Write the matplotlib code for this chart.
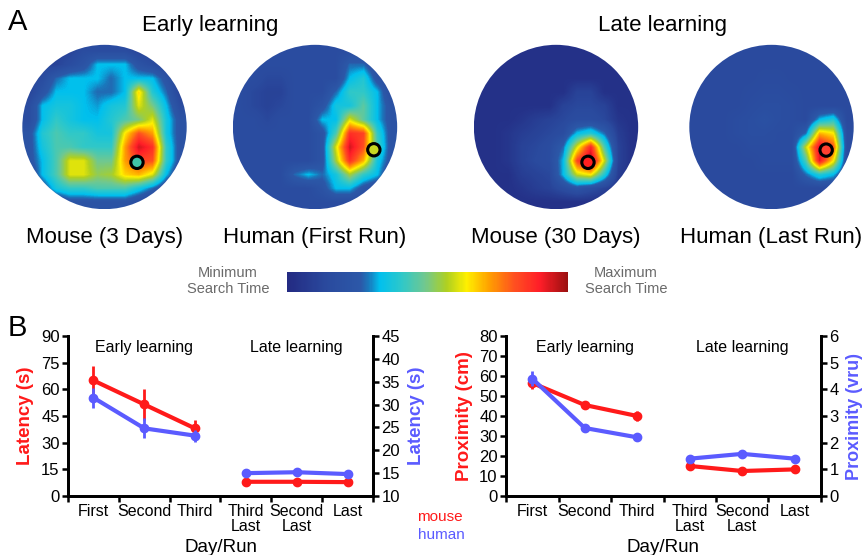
import numpy as np
import matplotlib
matplotlib.use("Agg")
import matplotlib.pyplot as plt
from matplotlib.colors import LinearSegmentedColormap
from matplotlib.patches import Circle
from matplotlib.colorbar import ColorbarBase

plt.rcParams['font.family'] = ['Liberation Sans', 'DejaVu Sans']

W, H = 864, 555
RED = '#ff1a1a'
BLUE = '#5b5bff'

# ---- panel A: search-time heat maps (0..9 scale) ----
mouse_early = [
    [1, 1, 1, 1, 1.5, 1.5, 1.5, 1.5, 1, 1, 1, 1],
    [1, 1, 1, 1.5, 2, 3, 3, 3, 2, 1.5, 1, 1],
    [1, 1.5, 2.5, 3, 3, 3, 2.5, 3, 3, 3, 2, 1],
    [1, 2, 3, 3, 3, 2.5, 2.5, 3, 6, 3.5, 2.5, 1],
    [1.5, 3, 3.3, 3.3, 3, 2.8, 3.3, 3.5, 5.5, 4.5, 3, 1.5],
    [1.5, 3, 3.7, 3.3, 3, 3, 3.5, 4, 4.5, 5.5, 3.3, 2],
    [2, 3.5, 4, 3.7, 3.7, 3.3, 3.3, 5.8, 7.3, 6.5, 3.3, 2],
    [2, 3.3, 4, 4, 3.7, 3.7, 3.7, 6.5, 8.5, 7.8, 3.7, 2],
    [2, 3, 4, 5.5, 5.5, 4.4, 4.4, 6.5, 7.5, 7.3, 3.7, 2],
    [1.5, 3, 4, 5.5, 5.5, 4.8, 5, 6, 6.3, 5.5, 3, 1.5],
    [1, 2, 3.3, 3.7, 3.7, 4, 4, 4, 3.3, 2.5, 1.5, 1],
    [1, 1, 1.5, 2, 2, 2, 2, 2, 1.5, 1, 1, 1],
]
human_early = [
    [1.5, 1.5, 1.5, 1.5, 1.5, 1.5, 1.5, 1.5, 1.5, 1.5, 1.5, 1.5],
    [1.5, 1.5, 1.5, 1.5, 1.5, 1.5, 1.5, 1.5, 2.5, 2.5, 1.5, 1.5],
    [1.5, 1.5, 1.2, 1.2, 1.5, 1.5, 1.5, 1.5, 3, 3.5, 2, 1.5],
    [1.5, 1.2, 1, 1, 1.5, 1.5, 1.5, 2.5, 3.7, 3.7, 3, 1.5],
    [1.5, 1.2, 1, 1.2, 1.5, 1.5, 2, 3.3, 3.3, 4.2, 3, 2],
    [1.5, 1.5, 1.2, 1.5, 1.5, 1.5, 3, 3, 5.5, 4.2, 3, 2],
    [1.5, 1.5, 1.5, 1.5, 1.5, 1.5, 2, 4, 7.8, 7.5, 3.7, 2],
    [1.5, 1.5, 1.5, 1.5, 1.5, 1.5, 2, 5.5, 8.5, 7.3, 4, 2],
    [1.5, 1.5, 1.5, 1.5, 1.5, 1.5, 2, 5, 7.8, 6.3, 3.3, 2],
    [1.5, 1.5, 1.5, 1.5, 2.5, 3, 2.5, 3.3, 5, 3.7, 3, 1.5],
    [1.5, 1.5, 1.5, 1.5, 1.5, 1.5, 2, 3, 3, 2, 1.5, 1.5],
    [1.5, 1.5, 1.5, 1.5, 1.5, 1.5, 1.5, 1.5, 1.5, 1.5, 1.5, 1.5],
]
mouse_late = [
    [0.3, 0.3, 0.3, 0.3, 0.3, 0.3, 0.3, 0.3, 0.3, 0.3, 0.3, 0.3],
    [0.3, 0.3, 0.3, 0.3, 0.3, 0.3, 0.3, 0.3, 0.3, 0.3, 0.3, 0.3],
    [0.3, 0.3, 0.3, 0.3, 0.3, 0.3, 0.3, 0.3, 0.3, 0.3, 0.3, 0.3],
    [0.3, 0.3, 0.3, 0.3, 0.3, 0.3, 0.3, 1, 1, 0.3, 0.3, 0.3],
    [0.3, 0.3, 0.3, 0.3, 0.3, 0.3, 1, 1.2, 1.2, 1, 0.3, 0.3],
    [0.3, 0.3, 0.3, 0.5, 0.8, 1, 1.2, 1.5, 1.5, 1.2, 0.5, 0.3],
    [0.3, 0.3, 0.5, 0.8, 1, 1.2, 1.5, 3, 3.5, 2.5, 0.8, 0.3],
    [0.3, 0.3, 0.5, 1, 1.2, 1.5, 2.5, 5.5, 8, 4, 1, 0.3],
    [0.3, 0.3, 0.5, 1, 1.3, 1.5, 3, 7.5, 9, 5.3, 1, 0.3],
    [0.3, 0.3, 0.3, 0.8, 1, 1.2, 3, 5.3, 5.8, 3.5, 0.8, 0.3],
    [0.3, 0.3, 0.3, 0.5, 0.8, 1, 1.5, 2, 1.5, 1, 0.5, 0.3],
    [0.3, 0.3, 0.3, 0.3, 0.3, 0.3, 0.3, 0.3, 0.3, 0.3, 0.3, 0.3],
]
human_late = [
    [1.3, 1.3, 1.3, 1.3, 1.3, 1.3, 1.3, 1.3, 1.3, 1.3, 1.3, 1.3],
    [1.3, 1.3, 1.3, 1.3, 1.3, 1.3, 1.3, 1.3, 1.3, 1.3, 1.3, 1.3],
    [1.3, 1.3, 1.3, 1.3, 1.3, 1.4, 1.4, 1.3, 1.3, 1.3, 1.3, 1.3],
    [1.3, 1.3, 1.3, 1.3, 1.4, 1.5, 1.5, 1.4, 1.3, 1.3, 1.3, 1.3],
    [1.3, 1.3, 1.3, 1.3, 1.5, 1.6, 1.6, 1.5, 1.3, 1.3, 1.3, 1.3],
    [1.3, 1.3, 1.3, 1.5, 1.6, 1.8, 1.6, 1.5, 1.3, 3, 3.5, 1.3],
    [1.3, 1.3, 1.3, 1.5, 1.6, 1.6, 1.5, 1.5, 2.5, 6.3, 5.8, 1.5],
    [1.3, 1.3, 1.3, 1.3, 1.5, 1.5, 1.5, 1.5, 5.3, 8.5, 7.3, 1.5],
    [1.3, 1.3, 1.3, 1.3, 1.3, 1.5, 1.5, 1.5, 4, 8.3, 5.8, 1.5],
    [1.3, 1.3, 1.3, 1.3, 1.3, 1.3, 1.3, 1.3, 2.5, 3.5, 3, 1.3],
    [1.3, 1.3, 1.3, 1.3, 1.3, 1.3, 1.3, 1.3, 1.3, 1.3, 1.3, 1.3],
    [1.3, 1.3, 1.3, 1.3, 1.3, 1.3, 1.3, 1.3, 1.3, 1.3, 1.3, 1.3],
]
heat_maps = [mouse_early, human_early, mouse_late, human_late]
map_labels = ['Mouse (3 Days)', 'Human (First Run)', 'Mouse (30 Days)', 'Human (Last Run)']
# platform (target) ring position in map units, and colour under it
target_xy = [(0.395, -0.43), (0.716, -0.277), (0.389, -0.43), (0.665, -0.281)]
target_fill = ['#40c4a8', '#c8d820', '#ff2020', '#ff4030']

# ---- panel B: learning curves ----
runs = ['First', 'Second', 'Third', 'Third\nLast', 'Second\nLast', 'Last']
mouse_latency = [65, 51.5, 38, 8, 8, 7.8]
mouse_latency_err = [8, 8.5, 5, 0.8, 0.8, 0.8]
human_latency = [31.5, 24.8, 23.2, 15, 15.2, 14.8]
human_latency_err = [2.2, 2.2, 1.3, 0.8, 0.6, 0.5]
mouse_prox = [56.5, 45.5, 40, 15, 12.5, 13.3]
mouse_prox_err = [3, 1.8, 2.7, 0.8, 0.8, 0.8]
human_prox = [4.4, 2.55, 2.2, 1.4, 1.58, 1.4]
human_prox_err = [0.27, 0.12, 0.1, 0.05, 0.05, 0.05]

cmap = LinearSegmentedColormap.from_list('search', [
    (0.0, '#232a82'), (0.14, '#2a4a9e'), (0.26, '#2c58a8'), (0.29, '#1a78bc'),
    (0.33, '#00c0ee'), (0.41, '#30c8c8'), (0.49, '#70c890'), (0.57, '#b0d020'),
    (0.64, '#fff000'), (0.72, '#ffa000'), (0.81, '#ff5020'), (0.9, '#ff1e28'),
    (1.0, '#9a1010')])


def px_axes(fig, x0, y0, w, h):
    return fig.add_axes([x0 / W, 1 - (y0 + h) / H, w / W, h / H])


fig = plt.figure(figsize=(W / 100, H / 100), dpi=100)

centers = [104.5, 315, 556, 771.5]
for cx, grid, lab, txy, tfill in zip(centers, heat_maps, map_labels, target_xy, target_fill):
    ax = px_axes(fig, cx - 83, 44, 166, 166)
    im = ax.imshow(np.array(grid), cmap=cmap, vmin=0, vmax=9, extent=[-1, 1, -1, 1],
                   interpolation='bilinear', origin='upper')
    clip = Circle((0, 0), 1, transform=ax.transData)
    im.set_clip_path(clip)
    ax.add_patch(Circle(txy, 0.075, facecolor=tfill, edgecolor='black', lw=2.2))
    ax.set_xlim(-1.01, 1.01)
    ax.set_ylim(-1.01, 1.01)
    ax.axis('off')
    fig.text(cx / W, 1 - 237 / H, lab, ha='center', va='center', fontsize=16)

fig.text(210 / W, 1 - 25 / H, 'Early learning', ha='center', va='center', fontsize=16)
fig.text(663 / W, 1 - 25 / H, 'Late learning', ha='center', va='center', fontsize=16)
fig.text(8 / W, 1 - 22 / H, 'A', ha='left', va='center', fontsize=21)
fig.text(8 / W, 1 - 328 / H, 'B', ha='left', va='center', fontsize=21)

# colour scale
cax = px_axes(fig, 287, 272, 281, 20)
cb = ColorbarBase(cax, cmap=cmap, orientation='horizontal')
cb.outline.set_visible(False)
cax.set_xticks([])
fig.text(228 / W, 1 - 281 / H, 'Minimum\nSearch Time', ha='center', va='center',
         fontsize=10.5, color='#6a6a6a', linespacing=1.25)
fig.text(626 / W, 1 - 281 / H, 'Maximum\nSearch Time', ha='center', va='center',
         fontsize=10.5, color='#6a6a6a', linespacing=1.25)

x = np.arange(len(runs))


def curve(ax, vals, errs, color):
    vals = np.array(vals)
    errs = np.array(errs)
    for seg in (slice(0, 3), slice(3, 6)):
        ax.errorbar(x[seg], vals[seg], yerr=errs[seg], color=color, lw=3, marker='o',
                    ms=6, elinewidth=2, capsize=0)


def style(ax, ax2):
    for a in (ax, ax2):
        a.spines['top'].set_visible(False)
        for s in ('left', 'right', 'bottom'):
            a.spines[s].set_linewidth(2)
        a.tick_params(axis='y', direction='out', length=4, width=1.8, labelsize=12, pad=2)
    ax.set_xlim(-0.5, 5.5)
    ax.set_xticks(np.arange(-0.5, 6, 1))
    ax.set_xticklabels([])
    ax.set_xticks(x, runs, minor=True)
    ax.tick_params(axis='x', which='major', direction='out', length=4, width=1.8)
    ax.tick_params(axis='x', which='minor', length=0, pad=6, labelsize=11.5)
    for lab in ax.get_xticklabels(minor=True):
        lab.set_linespacing(0.95)
    ax.set_xlabel('Day/Run', fontsize=13.5, labelpad=4)
    ax.text(1, 0.93, 'Early learning', transform=ax.get_xaxis_transform(),
            ha='center', va='center', fontsize=11.5)
    ax.text(4, 0.93, 'Late learning', transform=ax.get_xaxis_transform(),
            ha='center', va='center', fontsize=11.5)


# latency
axL = px_axes(fig, 68, 336, 305, 160)
axL2 = axL.twinx()
curve(axL, mouse_latency, mouse_latency_err, RED)
curve(axL2, human_latency, human_latency_err, BLUE)
axL.set_ylim(0, 90)
axL.set_yticks(np.arange(0, 91, 15))
axL2.set_ylim(10, 45)
axL2.set_yticks(np.arange(10, 46, 5))
style(axL, axL2)
axL.set_ylabel('Latency (s)', color=RED, fontweight='bold', fontsize=13.5, labelpad=5)
axL2.set_ylabel('Latency (s)', color=BLUE, fontweight='bold', fontsize=13.5, labelpad=6)

# proximity
axR = px_axes(fig, 506, 336, 315, 160)
axR2 = axR.twinx()
curve(axR, mouse_prox, mouse_prox_err, RED)
curve(axR2, human_prox, human_prox_err, BLUE)
axR.set_ylim(0, 80)
axR.set_yticks(np.arange(0, 81, 10))
axR2.set_ylim(0, 6)
axR2.set_yticks(np.arange(0, 7, 1))
style(axR, axR2)
axR.set_ylabel('Proximity (cm)', color=RED, fontweight='bold', fontsize=13.5, labelpad=4)
axR2.set_ylabel('Proximity (vru)', color=BLUE, fontweight='bold', fontsize=13, labelpad=5)

fig.text(440 / W, 1 - 517 / H, 'mouse', color=RED, ha='center', va='center', fontsize=11)
fig.text(441 / W, 1 - 535 / H, 'human', color=BLUE, ha='center', va='center', fontsize=11)

fig.savefig('out.png', dpi=100)
